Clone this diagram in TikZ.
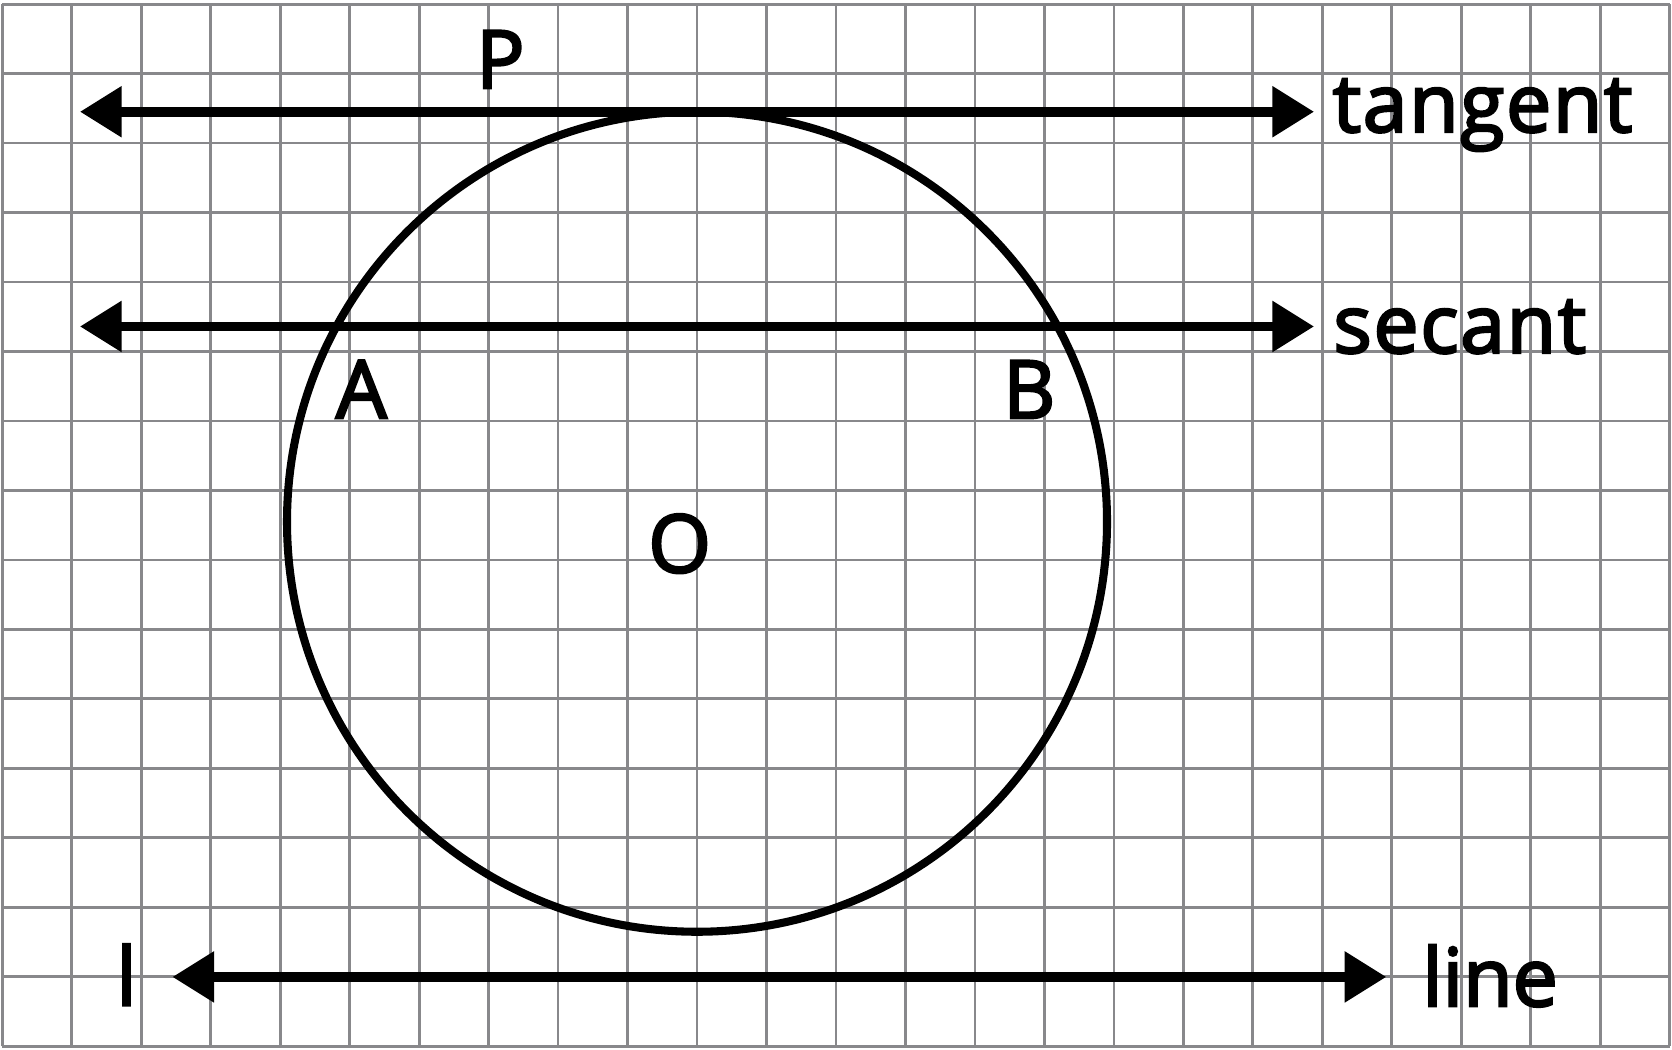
\documentclass[tikz,border=0pt]{standalone}
\usepackage{fontspec}
\setmainfont{Open Sans}[FakeBold=3]
\usetikzlibrary{arrows.meta}
\definecolor{gridgray}{RGB}{136,136,139}

\begin{document}
\begin{tikzpicture}[x=1cm, y=1cm,
    ray/.style = {line width=4pt, {Triangle[length=6mm,width=7mm]}-{Triangle[length=6mm,width=7mm]}},
    lbl/.style = {font=\fontsize{33}{40}\selectfont, inner sep=0pt, anchor=base}]
    \useasboundingbox (-0.03,-0.05) rectangle (24.03,15.058);
    \draw[gridgray, line width=1.2pt] (0,0) grid (24,15);
    \coordinate (ctr) at (10,7.55);
    \draw[line width=3.3pt] (ctr) circle (5.9);
    \coordinate (t1) at (1.12,13.45);
    \coordinate (t2) at (18.88,13.45);
    \coordinate (s1) at (1.12,10.36);
    \coordinate (s2) at (18.88,10.36);
    \coordinate (l1) at (2.45,1.0);
    \coordinate (l2) at (19.92,1.0);
    \draw[ray] (t1) -- (t2);
    \draw[ray] (s1) -- (s2);
    \draw[ray] (l1) -- (l2);
    \node[lbl] (P) at (7.17,13.79) {P};
    \node[lbl] (A) at (5.17,9.04) {A};
    \node[lbl] (B) at (14.78,9.04) {B};
    \node[lbl] (O) at (9.75,6.82) {O};
    \node[lbl] (l) at (1.79,0.59) {l};
    \node[lbl, anchor=base west] (tan) at (19.14,13.16) {\addfontfeature{LetterSpace=2}tangent};
    \node[lbl, anchor=base west] (sec) at (19.15,9.98) {\addfontfeature{LetterSpace=2}secant};
    \node[lbl, anchor=base west] (ln) at (20.43,0.58) {line};
\end{tikzpicture}
\end{document}
